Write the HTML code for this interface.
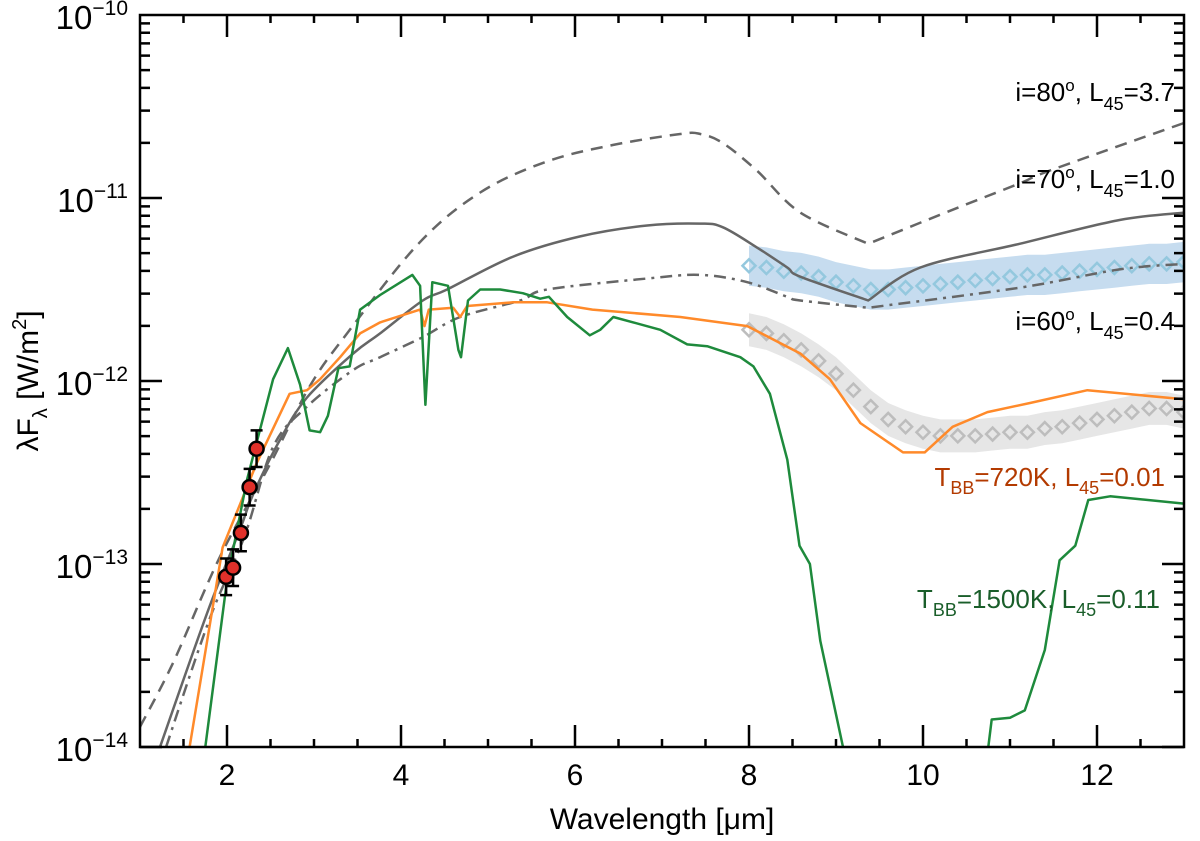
<!DOCTYPE html>
<html><head><meta charset="utf-8"><style>
html,body{margin:0;padding:0;background:#fff}
svg{display:block;font-family:"Liberation Sans",sans-serif}
</style></head><body>
<svg id="chart" width="1200" height="841" viewBox="0 0 1200 841" xmlns="http://www.w3.org/2000/svg">
<defs><clipPath id="clip"><rect x="140" y="15" width="1044" height="732"/></clipPath></defs>
<g id="bands" clip-path="url(#clip)"></g>
<g id="lines" clip-path="url(#clip)"></g>
<g id="marks" clip-path="url(#clip)"></g>
<g id="axes"></g>
<g font-size="26">
<text x="1175" y="101" text-anchor="end">i=80<tspan dy="-10" font-size="17">o</tspan><tspan dy="10">, L</tspan><tspan dy="9" font-size="18">45</tspan><tspan dy="-9">=3.7</tspan></text>
<text x="1175" y="188" text-anchor="end">i=70<tspan dy="-10" font-size="17">o</tspan><tspan dy="10">, L</tspan><tspan dy="9" font-size="18">45</tspan><tspan dy="-9">=1.0</tspan></text>
<text x="1175" y="330" text-anchor="end">i=60<tspan dy="-10" font-size="17">o</tspan><tspan dy="10">, L</tspan><tspan dy="9" font-size="18">45</tspan><tspan dy="-9">=0.4</tspan></text>
<text x="1165" y="486" text-anchor="end" fill="#b33a00">T<tspan dy="8" font-size="18">BB</tspan><tspan dy="-8">=720K, L</tspan><tspan dy="8" font-size="18">45</tspan><tspan dy="-8">=0.01</tspan></text>
<text x="1160" y="608" text-anchor="end" fill="#1a5e2a">T<tspan dy="8" font-size="18">BB</tspan><tspan dy="-8">=1500K, L</tspan><tspan dy="8" font-size="18">45</tspan><tspan dy="-8">=0.11</tspan></text>
</g>
<text x="662" y="829" text-anchor="middle" font-size="30">Wavelength [μm]</text>
<text transform="translate(38,381) rotate(-90)" text-anchor="middle" font-size="30">λF<tspan dy="9" font-size="20">λ</tspan><tspan dy="-9"> [W/m</tspan><tspan dy="-12" font-size="20">2</tspan><tspan dy="12">]</tspan></text>
</svg>
<script>
const i80X=[1,1.38,1.92,2.5,2.95,3.38,4.2,4.91,5.68,6.44,7.21,7.44,7.70,8.09,8.59,9.37,10.31,11.11,11.46,13];
const i80Y=[-13.89,-13.54,-12.96,-12.45,-12.03,-11.74,-11.25,-10.97,-10.80,-10.71,-10.65,-10.65,-10.70,-10.85,-11.08,-11.25,-11.07,-10.92,-10.85,-10.59];
const i70X=[1.23,1.77,2.15,2.30,2.61,2.92,3.45,3.76,4.25,4.53,5.29,6.06,6.83,7.44,7.70,8.09,8.44,8.59,9.37,9.97,11.11,12.26,13];
const i70Y=[-14.0,-13.27,-12.81,-12.62,-12.32,-12.09,-11.85,-11.74,-11.56,-11.50,-11.32,-11.21,-11.15,-11.14,-11.16,-11.27,-11.38,-11.43,-11.56,-11.38,-11.25,-11.12,-11.08];
const i60X=[1.30,1.80,2.2,2.53,2.92,3.45,3.76,4.25,4.68,5.37,5.68,6.83,7.44,7.98,8.44,8.59,9.37,11.11,12.26,13];
const i60Y=[-14.0,-13.30,-12.85,-12.36,-12.14,-11.94,-11.87,-11.76,-11.65,-11.56,-11.50,-11.44,-11.42,-11.46,-11.54,-11.56,-11.60,-11.49,-11.39,-11.36];
const bb720X=[1.57,1.95,2.34,2.72,2.92,3.07,3.30,3.53,3.76,4.22,4.27,4.32,4.60,4.68,4.76,5.29,5.68,6.2,7.21,7.98,8.59,8.93,9.28,9.77,10.02,10.34,10.74,11.23,11.89,13];
const bb720Y=[-14.0,-12.91,-12.45,-12.07,-12.05,-11.99,-11.87,-11.74,-11.68,-11.61,-11.70,-11.61,-11.60,-11.65,-11.59,-11.57,-11.57,-11.61,-11.65,-11.70,-11.85,-11.99,-12.23,-12.39,-12.39,-12.25,-12.17,-12.12,-12.05,-12.10];
const bb1500aX=[1.72,1.75,2.0,2.23,2.53,2.70,2.84,2.95,3.07,3.16,3.28,3.41,3.53,3.76,4.13,4.22,4.28,4.36,4.54,4.66,4.69,4.77,4.91,5.14,5.40,5.60,5.70,5.91,6.17,6.29,6.44,6.67,6.98,7.29,7.52,7.90,8.05,8.24,8.44,8.58,8.70,8.82,9.08,9.12];
const bb1500aY=[-14.2,-14.0,-13.09,-12.54,-11.99,-11.82,-12.02,-12.27,-12.28,-12.19,-11.93,-11.92,-11.61,-11.53,-11.42,-11.48,-12.13,-11.46,-11.48,-11.83,-11.87,-11.56,-11.50,-11.50,-11.52,-11.55,-11.54,-11.65,-11.75,-11.72,-11.65,-11.68,-11.72,-11.80,-11.81,-11.87,-11.92,-12.07,-12.43,-12.90,-13.0,-13.42,-14.0,-14.2];
const bb1500bX=[10.73,10.75,10.79,11.0,11.17,11.40,11.57,11.75,11.90,12.15,13];
const bb1500bY=[-14.2,-14.0,-13.85,-13.84,-13.80,-13.47,-12.98,-12.90,-12.65,-12.63,-12.67];
const blueX=[8.0,8.2,8.4,8.6,8.8,9.0,9.2,9.4,9.6,9.8,10.0,10.2,10.4,10.6,10.8,11.0,11.2,11.4,11.6,11.8,12.0,12.2,12.4,12.6,12.8,13.0];
const blueY=[-11.37,-11.38,-11.40,-11.41,-11.43,-11.46,-11.48,-11.50,-11.50,-11.49,-11.48,-11.47,-11.46,-11.45,-11.44,-11.43,-11.42,-11.42,-11.41,-11.40,-11.39,-11.38,-11.37,-11.36,-11.36,-11.35];
const grayX=[8.0,8.2,8.4,8.6,8.8,9.0,9.2,9.4,9.6,9.8,10.0,10.2,10.4,10.6,10.8,11.0,11.2,11.4,11.6,11.8,12.0,12.2,12.4,12.6,12.8,13.0];
const grayY=[-11.72,-11.74,-11.78,-11.83,-11.89,-11.96,-12.05,-12.14,-12.21,-12.25,-12.28,-12.30,-12.30,-12.30,-12.29,-12.28,-12.28,-12.26,-12.25,-12.23,-12.21,-12.19,-12.17,-12.15,-12.15,-12.17];
const photX=[1.99,2.07,2.16,2.26,2.34];
const photY=[-13.07,-13.02,-12.83,-12.58,-12.37];
const photErr=[0.1,0.1,0.1,0.1,0.1];
const blueErr=0.11, grayErr=0.09;
const xTicks=[2,4,6,8,10,12];
const yTicks=[-14,-13,-12,-11,-10];
const cornerX=9.37;

const NS='http://www.w3.org/2000/svg';
const X0=140,X1=1184,Y0=747,Y1=15;
const sx=v=>X0+(v-1)/(13-1)*(X1-X0);
const sy=v=>Y0-(v-(-14))/4*(Y0-Y1);
function mk(tag,parent){const e=document.createElementNS(NS,tag);document.getElementById(parent).appendChild(e);return e;}
function pts(xs,ys){return xs.map((x,i)=>sx(x).toFixed(1)+','+sy(ys[i]).toFixed(1)).join(' ');}
function smoothPath(xs,ys){
  const P=xs.map((x,i)=>[sx(x),sy(ys[i])]);
  const brk=xs.map(x=>Math.abs(x-cornerX)<1e-6);
  let d=`M${P[0][0]},${P[0][1]}`;
  for(let i=0;i<P.length-1;i++){
    const p1=P[i],p2=P[i+1];
    const p0=brk[i]?p1:P[Math.max(0,i-1)];
    const p3=brk[i+1]?p2:P[Math.min(P.length-1,i+2)];
    const c1=[p1[0]+(p2[0]-p0[0])/6,p1[1]+(p2[1]-p0[1])/6];
    const c2=[p2[0]-(p3[0]-p1[0])/6,p2[1]-(p3[1]-p1[1])/6];
    d+=`C${c1[0].toFixed(1)},${c1[1].toFixed(1)} ${c2[0].toFixed(1)},${c2[1].toFixed(1)} ${p2[0].toFixed(1)},${p2[1].toFixed(1)}`;
  }
  return d;
}
function band(xs,ys,err,fill,name){
  const e=mk('polygon','bands');
  
  
  const up=xs.map((x,i)=>sx(x).toFixed(1)+','+sy(ys[i]+err).toFixed(1));
  const dn=xs.map((x,i)=>sx(x).toFixed(1)+','+sy(ys[i]-err).toFixed(1)).reverse();
  e.setAttribute('points',up.concat(dn).join(' '));e.setAttribute('fill',fill);
}
band(blueX,blueY,blueErr,'#c6dcef','blue-band');
band(grayX,grayY,grayErr,'#e6e6e6','gray-band');
function diamonds(xs,ys,col,name){
  xs.forEach((x,i)=>{const e=mk('polygon','bands');
    
    
    const cx=sx(x),cy=sy(ys[i]),r=6.5;
    e.setAttribute('points',`${cx},${cy-r} ${cx+r},${cy} ${cx},${cy+r} ${cx-r},${cy}`);
    e.setAttribute('fill','none');e.setAttribute('stroke',col);e.setAttribute('stroke-width','2.5');});
}
diamonds(blueX,blueY,'#94c8de','blue-diamond');
diamonds(grayX,grayY,'#bdbdbd','gray-diamond');
function line(xs,ys,col,dash,name,smooth){
  const e=mk('path','lines');
  
  
  e.setAttribute('d',smooth?smoothPath(xs,ys):'M'+pts(xs,ys).replace(/ /g,'L'));
  e.setAttribute('fill','none');e.setAttribute('stroke',col);
  e.setAttribute('stroke-width',2.5);e.setAttribute('stroke-linejoin','round');if(dash)e.setAttribute('stroke-dasharray',dash);
}
line(i80X,i80Y,'#666','12,8','i80-curve',true);
line(i70X,i70Y,'#666',null,'i70-curve',true);
line(i60X,i60Y,'#666','12,6,3,6','i60-curve',true);
line(bb720X,bb720Y,'#ff8a2a',null,'bb720-curve',false);
line(bb1500aX,bb1500aY,'#1e8a3c',null,'bb1500-curve',false);
line(bb1500bX,bb1500bY,'#1e8a3c',null,'bb1500-curve-right',false);
photX.forEach((x,i)=>{
  const cx=sx(x),t=sy(photY[i]+photErr[i]),b=sy(photY[i]-photErr[i]);
  const e=mk('path','marks');
  
  
  e.setAttribute('d',`M${cx},${t}V${b}M${cx-6},${t}H${cx+6}M${cx-6},${b}H${cx+6}`);
  e.setAttribute('stroke','#000');e.setAttribute('stroke-width','2.5');
});
photX.forEach((x,i)=>{
  const c=mk('circle','marks');
  
  
  c.setAttribute('cx',sx(x));c.setAttribute('cy',sy(photY[i]));c.setAttribute('r',7);
  c.setAttribute('fill','#e0302a');c.setAttribute('stroke','#000');c.setAttribute('stroke-width','2.5');
});
const fr=mk('rect','axes');


fr.setAttribute('x',X0);fr.setAttribute('y',Y1);fr.setAttribute('width',X1-X0);fr.setAttribute('height',Y0-Y1);
fr.setAttribute('fill','none');fr.setAttribute('stroke','#000');fr.setAttribute('stroke-width','2.5');
let d='';
for(let v=1.5;v<13;v+=0.5){const x=sx(v);const L=(Math.abs(v%2)<1e-9)?22:8;d+=`M${x},${Y0}v${-L}M${x},${Y1}v${L}`;}
for(let dec=-14;dec<-10;dec++){for(let m=1;m<10;m++){const y=sy(dec+Math.log10(m));const L=m===1?22:10;d+=`M${X0},${y}h${L}M${X1},${y}h${-L}`;}}
const tk=mk('path','axes');


tk.setAttribute('d',d);tk.setAttribute('stroke','#000');tk.setAttribute('stroke-width','2.5');
xTicks.forEach(v=>{const t=mk('text','axes');
  
  
  t.setAttribute('x',sx(v));t.setAttribute('y',785);t.setAttribute('text-anchor','middle');t.setAttribute('font-size','30');t.textContent=v;});
yTicks.forEach(v=>{const t=mk('text','axes');
  
  
  t.setAttribute('x',128);t.setAttribute('y',sy(v)+14);t.setAttribute('text-anchor','end');t.setAttribute('font-size','33');
  t.innerHTML=`10<tspan dy="-14" font-size="21">−${-v}</tspan>`;});
</script>
</body></html>
